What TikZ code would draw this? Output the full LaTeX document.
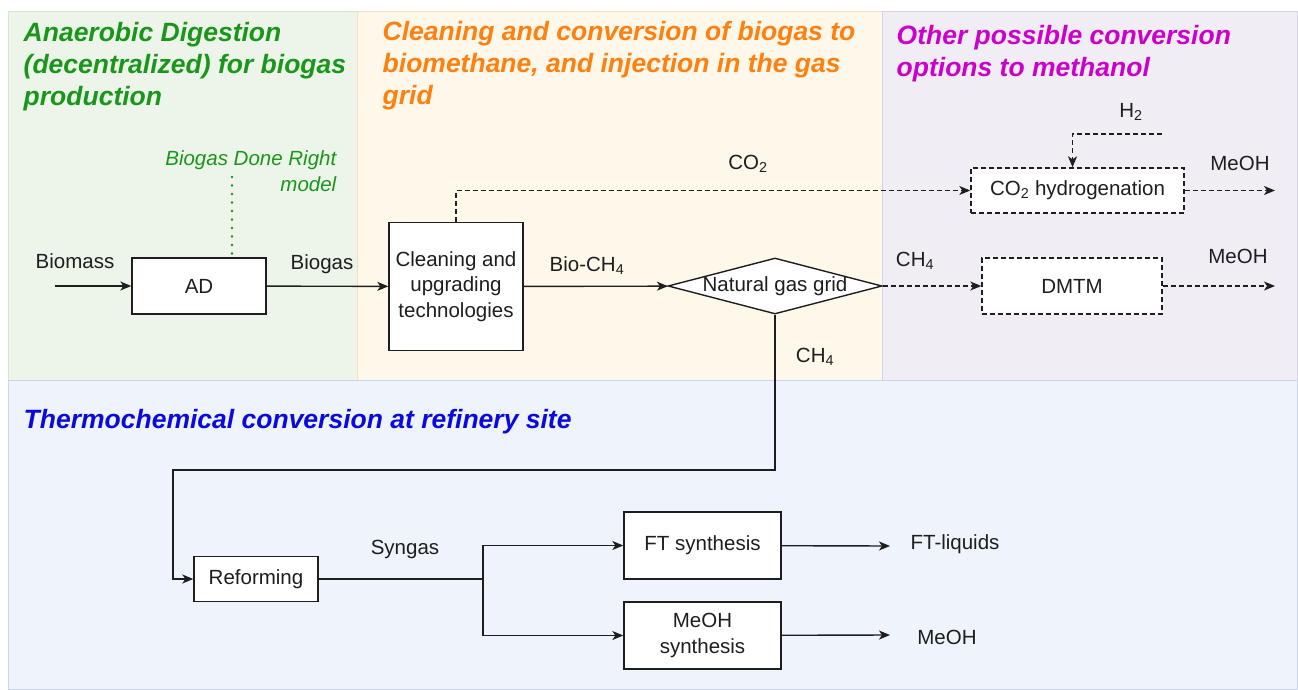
\documentclass[tikz,border=0pt]{standalone}
\usepackage{fontspec}
\setmainfont{Liberation Sans}
\usetikzlibrary{positioning,shapes.geometric,arrows.meta}

\definecolor{adgreen}{HTML}{1A961A}
\definecolor{upgorange}{HTML}{FF7F0F}
\definecolor{optpurple}{HTML}{CC00CC}
\definecolor{refblue}{HTML}{0A0AE0}
\definecolor{adbg}{HTML}{EDF5EB}
\definecolor{adbd}{HTML}{D3E6CE}
\definecolor{upgbg}{HTML}{FEF8EA}
\definecolor{upgbd}{HTML}{EFE2BE}
\definecolor{optbg}{HTML}{F1EDF5}
\definecolor{optbd}{HTML}{D9D1E6}
\definecolor{refbg}{HTML}{EEF3FC}
\definecolor{refbd}{HTML}{CBD6EE}
\definecolor{ink}{HTML}{1E1E1E}

\newcommand{\lblfont}{\fontsize{20.5}{25.5}\selectfont}
\newcommand{\headfont}{\fontsize{26.5}{32}\selectfont\bfseries\itshape}

\begin{document}
\begin{tikzpicture}[x=1pt,y=-1pt,line width=1.4pt,draw=ink,
		box/.style={draw,fill=white,align=center,inner sep=0pt,font=\lblfont,text=ink},
		dbox/.style={box,dashed},
		lbl/.style={inner sep=0pt,font=\lblfont,text=ink},
		head/.style={inner sep=0pt,anchor=base west,align=left,font=\headfont},
		flow/.style={-{Stealth[length=11pt,width=9pt,inset=3pt]}},
		dflow/.style={flow,dash pattern=on 5pt off 3pt},
		dashed/.style={dash pattern=on 5pt off 3pt}]
	\useasboundingbox (0,0) rectangle (1298,690);
	% zones
	\filldraw[fill=adbg,draw=adbd,line width=1pt] (8,12) rectangle (357,380);
	\filldraw[fill=upgbg,draw=upgbd,line width=1pt] (357,12) rectangle (882,380);
	\filldraw[fill=optbg,draw=optbd,line width=1pt] (882,12) rectangle (1297,380);
	\filldraw[fill=refbg,draw=refbd,line width=1pt] (8,380) rectangle (1297,689);
	% last line sits on the given baseline
	\node[head,text=adgreen] (hAD) at (23,106) {Anaerobic Digestion\\(decentralized) for biogas\\production};
	\node[head,text=upgorange] (hUpg) at (382,105) {Cleaning and conversion of biogas to\\biomethane, and injection in the gas\\grid};
	\node[head,text=optpurple] (hOpt) at (896,77) {Other possible conversion\\options to methanol};
	\node[head,text=refblue] (hRef) at (23,428) {Thermochemical conversion at refinery site};

	% process units
	\node[box,minimum width=134,minimum height=56] (ad) at (199,286) {AD};
	\node[box,minimum width=134,minimum height=128] (clean) at (456,286.5) {Cleaning and\\upgrading\\technologies};
	\node[diamond,draw,fill=white,inner sep=0pt,minimum width=214,minimum height=56,
		label={[lbl]center:Natural gas grid}] (grid) at (775,286) {};
	\node[dbox,minimum width=213,minimum height=45] (hydro) at (1077.5,190.5) {CO\textsubscript{2} hydrogenation};
	\node[dbox,minimum width=180,minimum height=56] (dmtm) at (1072,286) {DMTM};
	\node[box,minimum width=124,minimum height=45] (reform) at (256,579) {Reforming};
	\node[box,minimum width=157,minimum height=67] (ft) at (702.5,545.5) {FT synthesis};
	\node[box,minimum width=157,minimum height=67] (meoh) at (702.5,635.5) {MeOH\\synthesis};

	% free ends
	\coordinate (bmin) at (55,286);
	\coordinate (h2in) at (1162,134);
	\coordinate (dmtmout) at (1275,286);
	\coordinate (hydroout) at (1275,190.5);
	\coordinate (bend) at (173,470);
	\coordinate (split) at (483,579);
	\coordinate (ftout) at (890,546);
	\coordinate (meohout) at (890,635);
	\coordinate (bdr) at (232,177);

	% labels
	\node[lbl] (lBiomass) at (75,261) {Biomass};
	\node[lbl] (lBiogas) at (322,264) {Biogas};
	\node[lbl] (lBioCH4) at (587,266) {Bio-CH\textsubscript{4}};
	\node[lbl] (lCO2) at (748,164) {CO\textsubscript{2}};
	\node[lbl] (lCH4a) at (915,261) {CH\textsubscript{4}};
	\node[lbl] (lCH4b) at (815,357) {CH\textsubscript{4}};
	\node[lbl] (lH2) at (1131,112) {H\textsubscript{2}};
	\node[lbl] (lMeOHa) at (1240,163) {MeOH};
	\node[lbl] (lMeOHb) at (1238,256) {MeOH};
	\node[lbl] (lSyngas) at (405,549) {Syngas};
	\node[lbl] (lFTliq) at (955,544) {FT-liquids};
	\node[lbl] (lMeOHc) at (947,637) {MeOH};
	\node[lbl,text=adgreen,font=\lblfont\itshape,align=right,anchor=east] (lBDR) at (337,171) {Biogas Done Right\\model};

	% connectors
	\draw[flow] (bmin) -- (ad);
	\draw[flow] (ad) -- (clean);
	\draw[flow] (clean) -- (grid);
	\draw[dflow] (clean.north) |- (hydro.west);
	\draw[dflow] (h2in) -| ([xshift=-5]hydro.north);
	\draw[dflow] (hydro) -- (hydroout);
	\draw[dflow] (grid.east) -- (dmtm.west);
	\draw[dflow] (dmtm) -- (dmtmout);
	\draw[adgreen,line width=2.6pt,line cap=round,dash pattern=on 0pt off 8.5pt] (bdr) -- (bdr |- ad.north);
	\draw[flow] (grid.south) |- (bend) |- (reform.west);
	\draw (reform) -- (split);
	\draw[flow] (split) |- (ft);
	\draw[flow] (split) |- (meoh);
	\draw[flow] (ft) -- (ftout);
	\draw[flow] (meoh) -- (meohout);
\end{tikzpicture}
\end{document}
